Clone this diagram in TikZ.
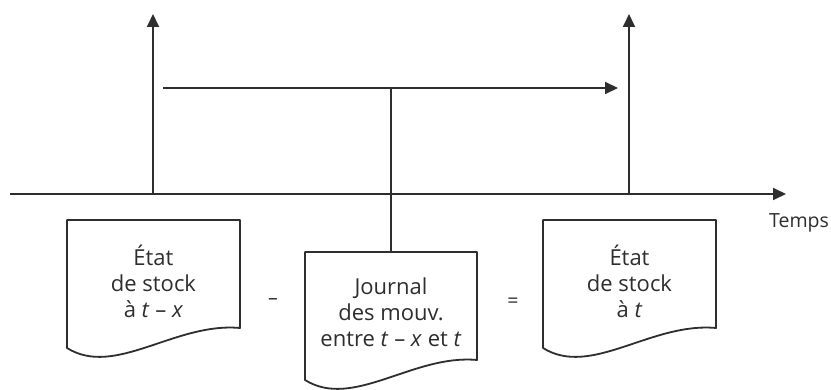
\documentclass[tikz,border=0pt]{standalone}
\usepackage{fontspec}
\setmainfont{Open Sans}
\usetikzlibrary{arrows.meta}
\definecolor{ink}{HTML}{2E2E2E}
\tikzset{
  line/.style={draw=ink, line width=1.8pt},
  arr/.style={line, -{Triangle[length=13pt,width=12pt]}},
  doc/.style={line, fill=white, line join=round},
  doctext/.style={align=center, text=ink, font=\fontsize{22}{26}\selectfont},
  sign/.style={text=ink, font=\fontsize{19.5}{24}\selectfont},
}
% document outline: left, top, right, y of bottom-left corner, y of bottom-right corner
\newcommand{\docoutline}[5]{%
  \path[doc] (#1,#2) -- (#3,#2) -- (#3,#5)
    .. controls ({#1+108},{#5-6}) and ({#1+48},{#4+30}) .. (#1,#4) -- cycle;}
\begin{document}
\begin{tikzpicture}[x=1pt,y=-1pt]
  \useasboundingbox[fill=white] (0,0) rectangle (831,390);

  % time axis and the two dated states
  \coordinate (axStart) at (10,194);
  \coordinate (axEnd) at (786,194);
  \coordinate (footL) at (153,194);
  \coordinate (footR) at (629,194);
  \coordinate (topL) at (153,14);
  \coordinate (topR) at (629,14);
  \coordinate (spanStart) at (163,88);
  \coordinate (spanEnd) at (618,88);
  \coordinate (spanMid) at (391,88);

  \draw[arr] (axStart) -- (axEnd);
  \draw[arr] (footL) -- (topL);
  \draw[arr] (footR) -- (topR);
  \draw[arr] (spanStart) -- (spanEnd);

  \node[sign, anchor=center] (temps) at (799,223) {Temps};

  % documents
  \docoutline{67}{220}{240}{348}{328}
  \docoutline{305}{252}{477}{380}{360}
  \docoutline{543}{220}{716}{348}{328}

  \coordinate (journalTop) at (391,252);
  \draw[line] (spanMid) -- (journalTop);

  \node[doctext] (stockA) at (153.5,281) {État\\de stock\\à \textit{t} – \textit{x}};
  \node[doctext] (journal) at (391,312.5) {Journal\\des mouv.\\entre \textit{t} – \textit{x} et \textit{t}};
  \node[doctext] (stockB) at (629.5,281) {État\\de stock\\à \textit{t}};

  \node[sign] (minus) at (273,302) {–};
  \node[sign] (equals) at (513,303) {=};
\end{tikzpicture}
\end{document}
